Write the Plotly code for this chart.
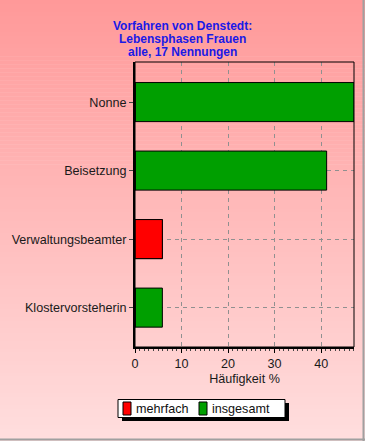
import plotly.graph_objects as go

categories = ["Nonne", "Beisetzung", "Verwaltungsbeamter", "Klostervorsteherin"]
insgesamt = [47.06, 41.18, 5.88, 5.88]
mehrfach = [0, 0, 5.88, 0]
x_ticks = [0, 10, 20, 30, 40]
title_lines = ["Vorfahren von Denstedt:", "Lebensphasen Frauen", "alle, 17 Nennungen"]
legend_names = ["mehrfach", "insgesamt"]
legend_colors = ["#ff0000", "#009f00"]

W, H = 365, 441
L, R, T, B = 135, 11, 62, 94
pw, ph = W - L - R, H - T - B
FONT = "Liberation Sans, Arial, sans-serif"

def px2x(px):
    return (px - L) / pw

def py2y(py):
    return (H - B - py) / ph

fig = go.Figure()
fig.add_trace(go.Bar(name="insgesamt", y=categories, x=insgesamt, orientation="h",
                     marker=dict(color="#009f00", line=dict(color="black", width=1)),
                     width=0.57, showlegend=False))
fig.add_trace(go.Bar(name="mehrfach", y=categories, x=mehrfach, orientation="h",
                     marker=dict(color="#ff0000", line=dict(color="black", width=1)),
                     width=0.57, showlegend=False))

shapes = []
n = 110
for i in range(n):
    y0 = i * H / n
    y1 = (i + 1) * H / n + 0.5
    f = i / (n - 1)
    g = round(153 + (222 - 153) * f)
    shapes.append(dict(type="rect", xref="paper", yref="paper", layer="below",
                       x0=px2x(0), x1=px2x(W), y0=py2y(y1), y1=py2y(y0),
                       fillcolor=f"rgb(255,{g},{g})", line=dict(width=0)))
# frame of plot area
shapes.append(dict(type="rect", xref="paper", yref="paper", x0=0, x1=1, y0=0, y1=1,
                   line=dict(color="black", width=1), layer="above"))
# gray outer borders
shapes.append(dict(type="line", xref="paper", yref="paper", x0=px2x(363.5), x1=px2x(363.5),
                   y0=py2y(0), y1=py2y(H), line=dict(color="#a0a0a0", width=2)))
shapes.append(dict(type="line", xref="paper", yref="paper", x0=px2x(0), x1=px2x(W),
                   y0=py2y(439.5), y1=py2y(439.5), line=dict(color="#a0a0a0", width=2)))
# custom legend: shadow, box, swatches
shapes.append(dict(type="rect", xref="paper", yref="paper", x0=px2x(122), x1=px2x(289),
                   y0=py2y(421), y1=py2y(403), fillcolor="black", line=dict(width=0)))
shapes.append(dict(type="rect", xref="paper", yref="paper", x0=px2x(118), x1=px2x(285),
                   y0=py2y(417.5), y1=py2y(399.5), fillcolor="white",
                   line=dict(color="black", width=1)))
annotations = []
sw_x = [123, 199]
tx_x = [134, 210]
for name, col, sx, tx in zip(legend_names, legend_colors, sw_x, tx_x):
    shapes.append(dict(type="rect", xref="paper", yref="paper", x0=px2x(sx), x1=px2x(sx + 8),
                       y0=py2y(415), y1=py2y(402), fillcolor=col,
                       line=dict(color="black", width=1)))
    annotations.append(dict(text=name, xref="paper", yref="paper", x=px2x(tx), y=py2y(408.5),
                            xanchor="left", yanchor="middle", showarrow=False,
                            font=dict(size=12.6, color="#111111", family=FONT)))
for i, line in enumerate(title_lines):
    annotations.append(dict(text=f"<b>{line}</b>", xref="paper", yref="paper",
                            x=px2x(182.5), y=py2y(26 + 13 * i), xanchor="center",
                            yanchor="middle", showarrow=False,
                            font=dict(size=12, color="#1a1ae6", family=FONT)))

fig.update_layout(
    width=W, height=H,
    margin=dict(l=L, r=R, t=T, b=B),
    paper_bgcolor="rgba(0,0,0,0)",
    plot_bgcolor="rgba(0,0,0,0)",
    barmode="overlay",
    font=dict(family=FONT, size=12.6, color="#1a1a1a"),
    xaxis=dict(range=[0, 47.06], tickvals=x_ticks, showgrid=True, gridcolor="#909090",
               griddash="4px,4px", gridwidth=1, zeroline=False,
               showline=True, linecolor="black", linewidth=2,
               ticks="outside", ticklen=4, tickcolor="black",
               minor=dict(dtick=1, ticks="outside", ticklen=2, tickcolor="#444444", showgrid=False),
               title=dict(text="Häufigkeit %", standoff=4, font=dict(size=12.6))),
    yaxis=dict(categoryorder="array", categoryarray=categories, range=[3.575, -0.585],
               showgrid=True, gridcolor="#909090", griddash="4px,4px", gridwidth=1,
               showline=True, linecolor="black", linewidth=2,
               ticks="outside", ticklen=4, tickcolor="#444444"),
    shapes=shapes,
    annotations=annotations,
)
fig.write_html("out.html", post_script="document.body.style.margin='0';",
               config={"displayModeBar": False})
